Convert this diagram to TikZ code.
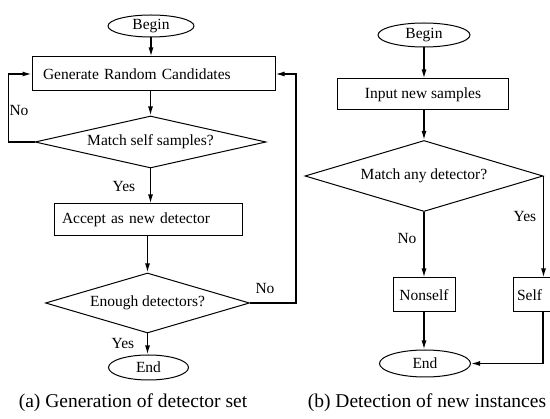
\documentclass[tikz,border=0pt]{standalone}
\usepackage{fontspec}
\setmainfont{Liberation Serif}
\usetikzlibrary{shapes.geometric,arrows.meta}
\begin{document}
\begin{tikzpicture}[x=1pt,y=-1pt,
  every node/.style={font=\fontsize{15.5}{18}\selectfont},
  box/.style={draw,line width=1pt,rectangle,inner ysep=0pt},
  oval/.style={draw,line width=1pt,ellipse,inner sep=0pt},
  dia/.style={draw,line width=1pt,diamond,inner sep=0pt},
  conn/.style={line width=1.4pt,-{Latex[length=9pt,width=5pt]}},
  lbl/.style={inner sep=0pt},
  captxt/.style={font=\fontsize{19.5}{22}\selectfont,inner sep=0pt}]
\useasboundingbox (0,0) rectangle (550,419);
% ---- (a) ----
\node[oval,minimum width=86,minimum height=22] (beginA) at (151,26) {Begin};
\node[box,minimum height=34,text width=221,inner xsep=11,align=left] (gen) at (153.5,74) {Generate Random Candidates};
\node[dia,aspect=4.44,minimum width=231,minimum height=52] (d1) at (150.5,142) {Match self samples?};
\node[box,minimum height=32,text width=172,inner xsep=8,align=left] (acc) at (148,220) {Accept as new detector};
\node[dia,aspect=3.4,minimum width=204,minimum height=60] (d2) at (147.5,303) {Enough detectors?};
\node[oval,minimum width=80,minimum height=25] (endA) at (148.5,367.5) {End};
\node[lbl] (noA1) at (19,111) {No};
\node[lbl] (yesA1) at (124,187) {Yes};
\node[lbl] (noA2) at (265,289) {No};
\node[lbl] (yesA2) at (123,344) {Yes};
\node[captxt] (capA) at (133,403) {(a) Generation of detector set};
\draw[conn] (beginA.south) -- (beginA.south |- gen.north);
\draw[conn] (d1.north |- gen.south) -- (d1.north);
\draw[conn] (d1.south) -- (d1.south |- acc.north);
\draw[conn] (d2.north |- acc.south) -- (d2.north);
\draw[conn] (d2.south) -- (d2.south |- endA.north);
\draw[conn] (d1.west) -- ++(-26,0) |- (gen.west);
\draw[conn] (d2.east) -- ++(46,0) |- (gen.east);
% ---- (b) ----
\node[oval,minimum width=92,minimum height=24] (beginB) at (424,35) {Begin};
\node[box,minimum width=171,minimum height=31] (inp) at (423,94.5) {Input new samples};
\node[dia,aspect=3.35,minimum width=238,minimum height=71] (d3) at (424,176) {Match any detector?};
\node[box,minimum width=62,minimum height=34,inner xsep=2] (nons) at (424,295) {Nonself};
\node[box,minimum height=34,text width=52,inner xsep=4,align=left] (self) at (543,295) {Self};
\node[oval,minimum width=91,minimum height=27] (endB) at (425,363.5) {End};
\node[lbl] (noB) at (407,239) {No};
\node[lbl] (yesB) at (525,217) {Yes};
\node[captxt] (capB) at (427,403) {(b) Detection of new instances};
\draw[conn] (beginB.south) -- (beginB.south |- inp.north);
\draw[conn] (d3.north |- inp.south) -- (d3.north);
\draw[conn] (d3.south) -- (d3.south |- nons.north);
\draw[conn] (d3.east) -- (d3.east |- self.north);
\draw[conn] (nons.south -| d3.south) -- (d3.south |- endB.north);
\draw[conn] (self.south) |- (endB.east);
\end{tikzpicture}
\end{document}
